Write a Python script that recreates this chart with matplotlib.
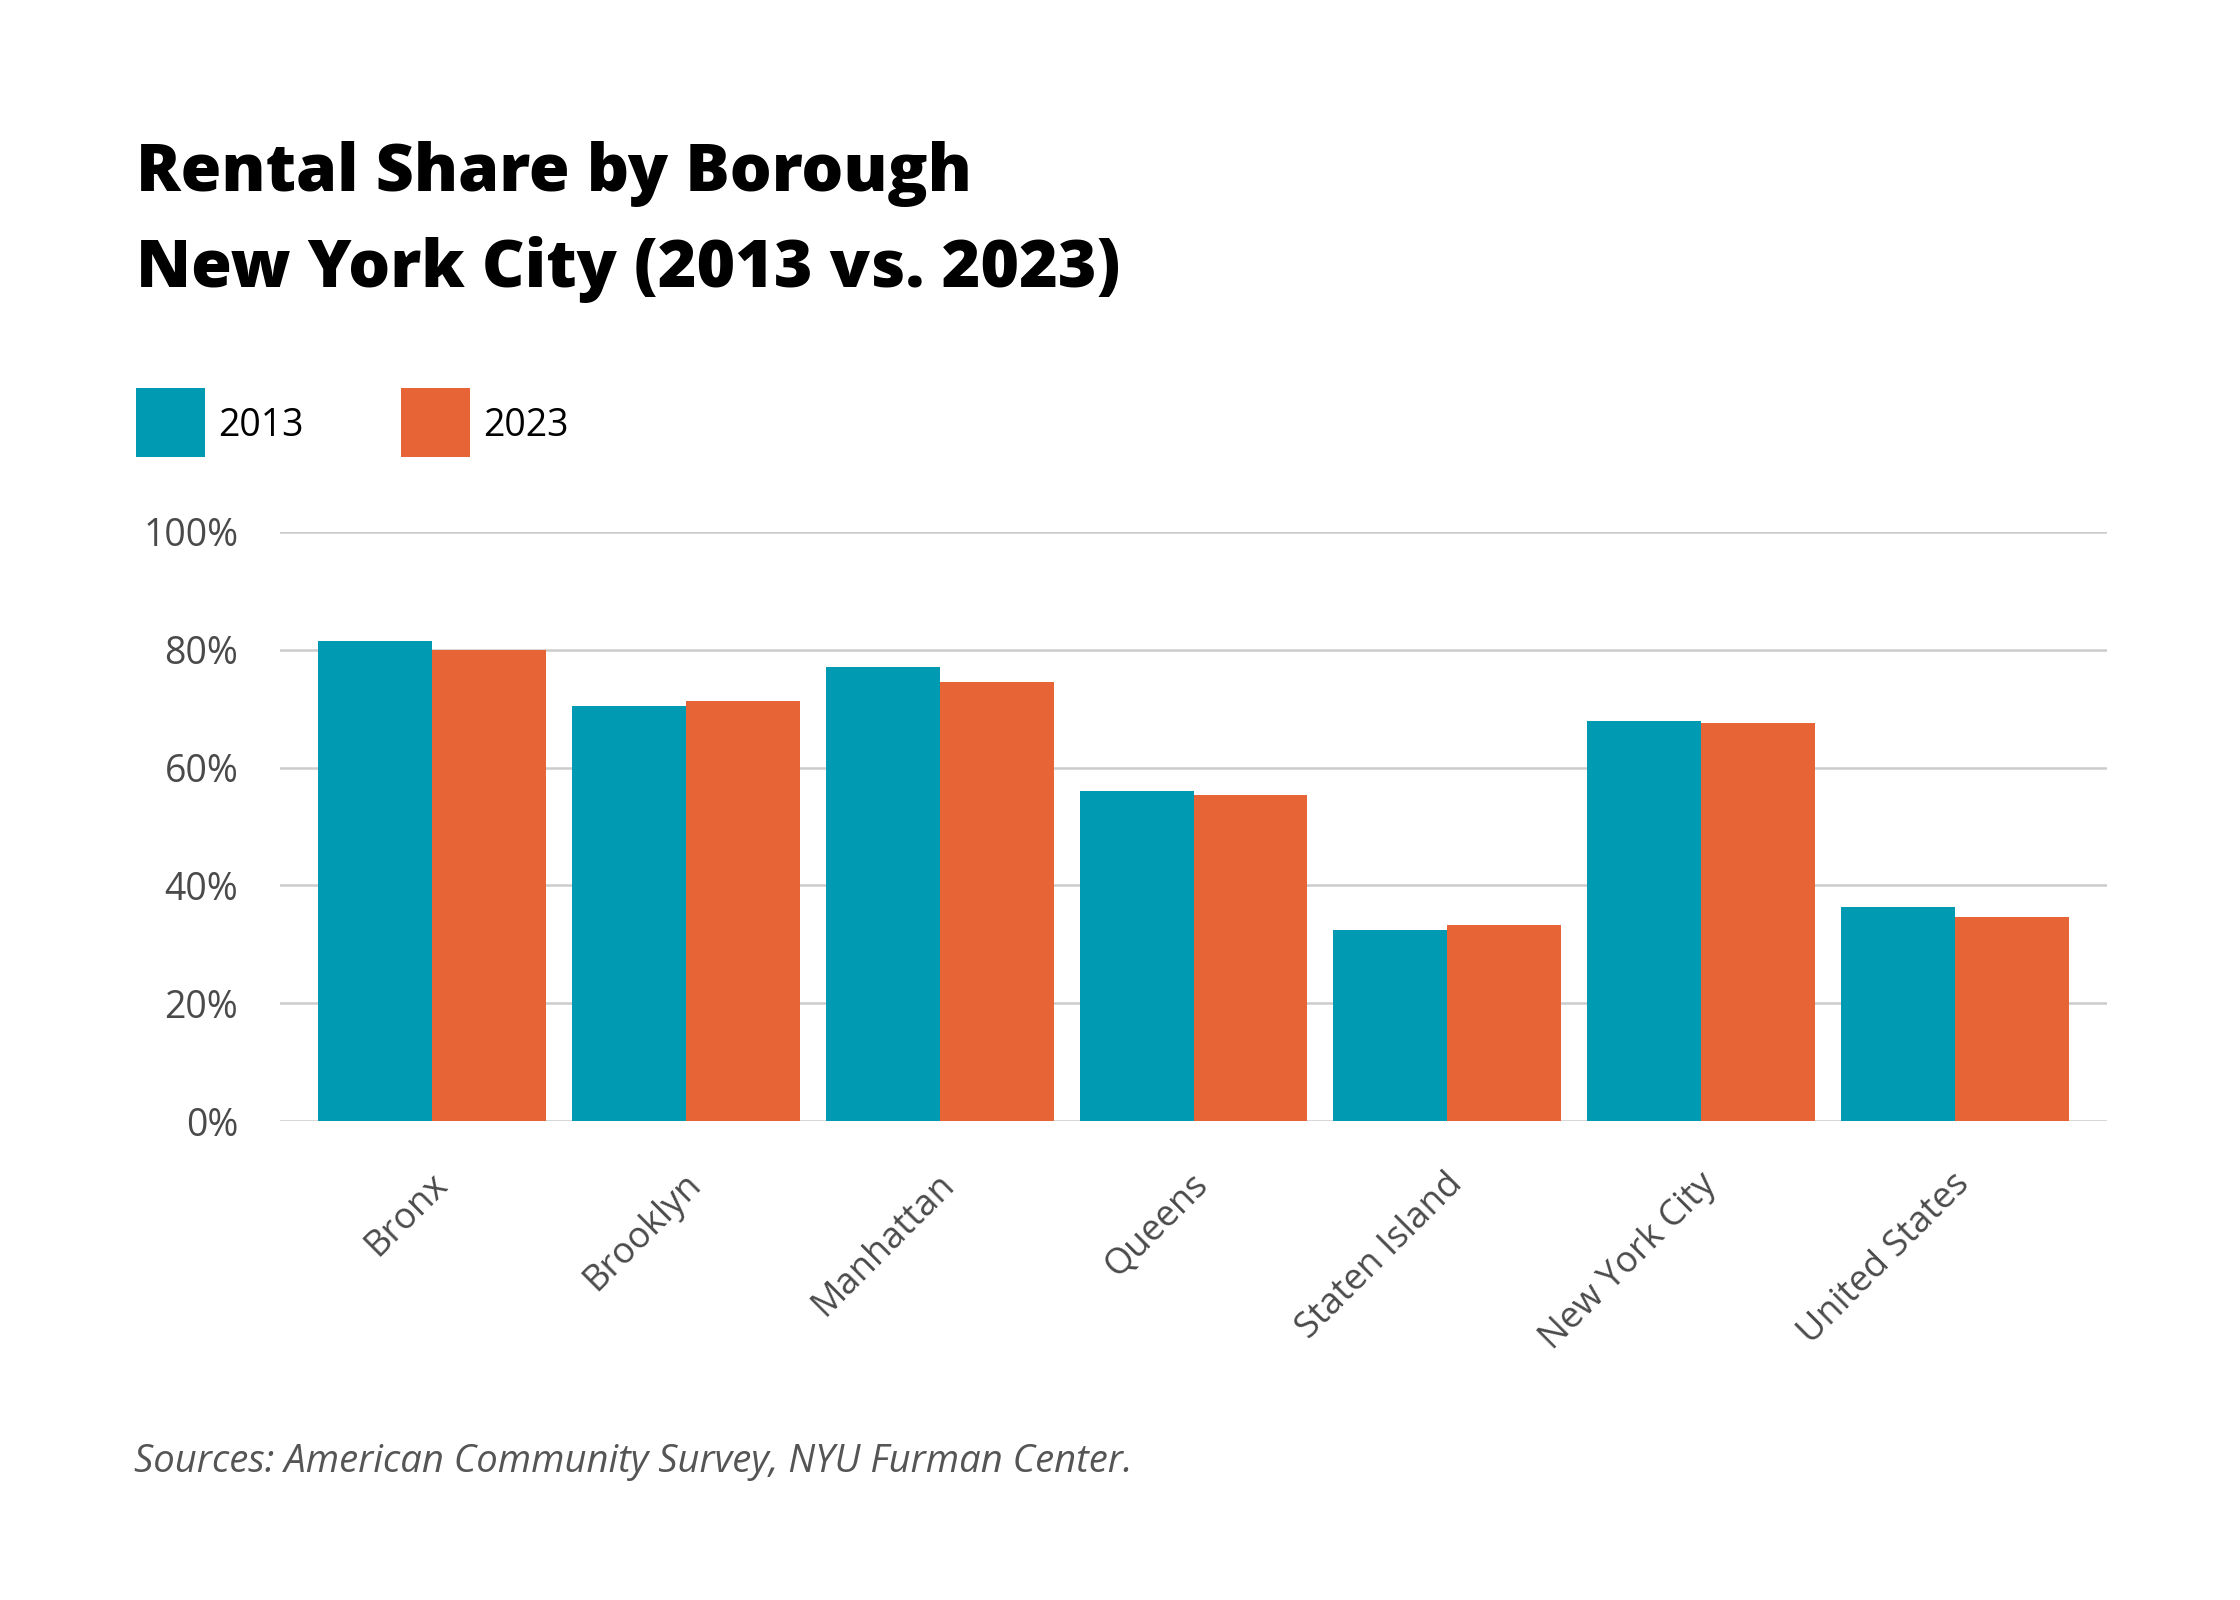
import numpy as np
import matplotlib
matplotlib.use("Agg")
import matplotlib.pyplot as plt
import matplotlib.transforms as mtransforms
from matplotlib.patches import Rectangle
from matplotlib.ticker import FuncFormatter

# Data (rental share, %)
areas = ['Bronx', 'Brooklyn', 'Manhattan', 'Queens',
         'Staten Island', 'New York City', 'United States']
share_2013 = [81.5, 70.4, 77.0, 56.0, 32.5, 67.9, 36.4]
share_2023 = [79.9, 71.3, 74.5, 55.3, 33.2, 67.5, 34.7]
years = ['2013', '2023']
y_ticks = [0, 20, 40, 60, 80, 100]

TEAL = '#009ab3'
ORANGE = '#e66436'
GRID = '#cccccc'
TICK_TXT = '#4a4a4a'
colors = [TEAL, ORANGE]

plt.rcParams['font.family'] = ['Open Sans', 'DejaVu Sans']

W, H = 2240, 1600
fig = plt.figure(figsize=(W / 100, H / 100), dpi=100)
fig.patch.set_facecolor('white')

# axes placed to match the reference pixel layout
ax_left, ax_right = 280, 2107
ax_top, ax_bottom = 532, 1121
ax = fig.add_axes([ax_left / W, 1 - ax_bottom / H,
                   (ax_right - ax_left) / W, (ax_bottom - ax_top) / H])

x = np.arange(len(areas))
width = 0.449
ax.bar(x - width / 2, share_2013, width, color=TEAL, zorder=3)
ax.bar(x + width / 2, share_2023, width, color=ORANGE, zorder=3)

ax.set_xlim(-0.6, len(areas) - 1 + 0.6)
ax.set_ylim(0, 100)
ax.set_yticks(y_ticks)
ax.yaxis.set_major_formatter(FuncFormatter(lambda v, _: f'{v:.0f}%'))
ax.grid(axis='y', color=GRID, linewidth=1.8, zorder=0)
ax.set_axisbelow(True)

for s in ax.spines.values():
    s.set_visible(False)

ax.tick_params(axis='y', length=0, pad=30, labelsize=27,
               labelcolor=TICK_TXT)
ax.set_xticks(x)
ax.set_xticklabels(areas, rotation=45, ha='right',
                   rotation_mode='anchor', va='center')
ax.tick_params(axis='x', length=0, pad=42, labelsize=26,
               labelcolor=TICK_TXT)
shift = mtransforms.ScaledTranslation(10 / 100, 0, fig.dpi_scale_trans)
for lab in ax.get_xticklabels():
    lab.set_transform(lab.get_transform() + shift)

# title
title_kw = dict(fontsize=47.5, fontweight=800,
                family=['Open Sans', 'DejaVu Sans'],
                color='black', va='baseline', ha='left')
fig.text(136 / W, 1 - 191 / H, 'Rental Share by Borough', **title_kw)
fig.text(136 / W, 1 - 287 / H, 'New York City (2013 vs. 2023)', **title_kw)

# legend: coloured squares with year labels
sq = 69
leg_x = [136, 401]
leg_top = 388
for lx, yr, c in zip(leg_x, years, colors):
    fig.add_artist(Rectangle((lx / W, 1 - (leg_top + sq) / H),
                             sq / W, sq / H, transform=fig.transFigure,
                             facecolor=c, edgecolor='none'))
    fig.text((lx + sq + 13) / W, 1 - (leg_top + sq / 2 + 4) / H, yr,
             fontsize=27, color='black', va='center', ha='left')

# source note
fig.text(134 / W, 1 - 1472 / H,
         'Sources: American Community Survey, NYU Furman Center.',
         fontsize=27.5, style='italic', color='#555555',
         va='baseline', ha='left')

fig.savefig('out.png', dpi=100, facecolor='white')
